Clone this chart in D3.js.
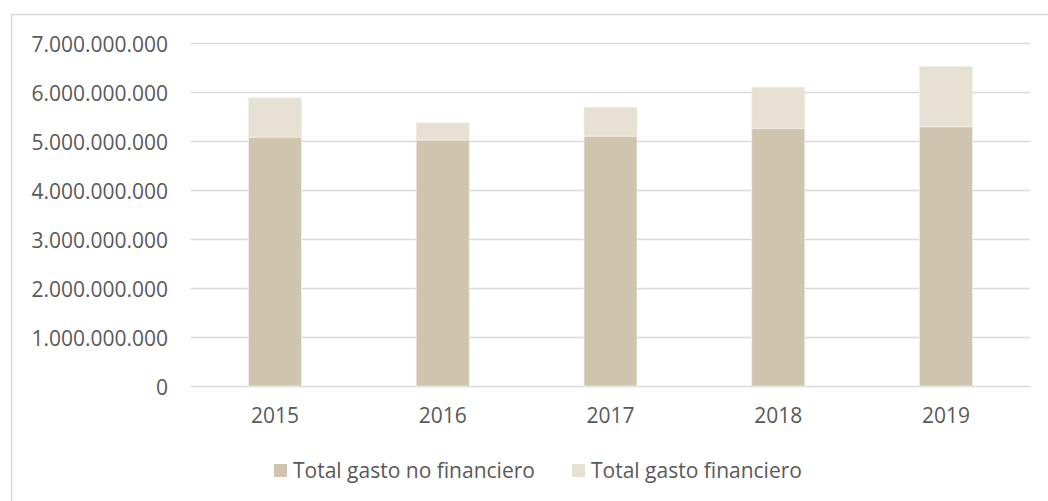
<!DOCTYPE html>
<html>
<head>
<meta charset="utf-8">
<script src="https://cdn.jsdelivr.net/npm/d3@7"></script>
<style>
  body { margin: 0; background: #fff; }
  text { font-family: "Open Sans", sans-serif; fill: #595959; }
</style>
</head>
<body>
<div id="chart"></div>
<script>
// data
const years = ["2015", "2016", "2017", "2018", "2019"];
const gastoNoFinanciero = [5080000000, 5020000000, 5100000000, 5260000000, 5290000000];
const gastoFinanciero = [800000000, 350000000, 590000000, 840000000, 1230000000];
const seriesNames = ["Total gasto no financiero", "Total gasto financiero"];
const seriesColors = ["#cfc5af", "#e7e1d3"];
const yTicks = [0, 1e9, 2e9, 3e9, 4e9, 5e9, 6e9, 7e9];

const width = 1048;
const height = 501;
const margin = { top: 43, right: 18, bottom: 115, left: 191 };
const fontSize = "21px";

const svg = d3.select("#chart").append("svg")
  .attr("width", width)
  .attr("height", height);

// chart frame (only top and left edges are inside the picture)
svg.append("path")
  .attr("d", `M11.5,${height} V14.5 H${width}`)
  .attr("fill", "none")
  .attr("stroke", "#d9d9d9")
  .attr("stroke-width", 1.5);

const x = d3.scaleBand()
  .domain(years)
  .range([margin.left, width - margin.right])
  .paddingInner(0.684)
  .paddingOuter(0.342);

const y = d3.scaleLinear()
  .domain([0, 7e9])
  .range([height - margin.bottom, margin.top]);

const locale = d3.formatLocale({ decimal: ",", thousands: ".", grouping: [3], currency: ["", "€"] });
const fmt = locale.format(",");

// Y axis with gridlines
const yAxis = svg.append("g")
  .attr("transform", `translate(${margin.left},0)`)
  .call(d3.axisLeft(y)
    .tickValues(yTicks)
    .tickFormat(fmt)
    .tickSize(-(width - margin.left - margin.right))
    .tickPadding(23));
yAxis.select(".domain").remove();
yAxis.selectAll(".tick line").attr("stroke", "#d9d9d9").attr("stroke-width", 1.5);
yAxis.selectAll(".tick text")
  .attr("fill", "#595959")
  .attr("dy", "0.4em")
  .style("font-size", fontSize)
  .style("font-family", "'Open Sans', sans-serif");

// stacked bars
const stackData = years.map((yr, i) => ({ year: yr, nf: gastoNoFinanciero[i], f: gastoFinanciero[i] }));
const stack = d3.stack().keys(["nf", "f"])(stackData);

svg.append("g")
  .selectAll("g")
  .data(stack)
  .join("g")
  .attr("fill", (d, i) => seriesColors[i])
  .selectAll("rect")
  .data(d => d)
  .join("rect")
  .attr("x", d => x(d.data.year))
  .attr("y", d => y(d[1]))
  .attr("width", x.bandwidth())
  .attr("height", d => y(d[0]) - y(d[1]))
  .attr("stroke", "#f3efe7")
  .attr("stroke-width", 0.75);

// X axis labels
const xAxis = svg.append("g")
  .attr("transform", `translate(0,${height - margin.bottom})`)
  .call(d3.axisBottom(x).tickSize(0).tickPadding(0));
xAxis.select(".domain").remove();
xAxis.selectAll(".tick text")
  .attr("fill", "#595959")
  .attr("y", 37)
  .attr("dy", 0)
  .style("font-size", fontSize)
  .style("font-family", "'Open Sans', sans-serif");

// legend
const legendX = [274, 572];
const legend = svg.append("g");
seriesNames.forEach((name, i) => {
  legend.append("rect")
    .attr("x", legendX[i])
    .attr("y", 464)
    .attr("width", 13)
    .attr("height", 13)
    .attr("fill", seriesColors[i]);
  legend.append("text")
    .attr("x", legendX[i] + 19)
    .attr("y", 478)
    .style("font-size", fontSize)
    .text(name);
});
</script>
</body>
</html>
